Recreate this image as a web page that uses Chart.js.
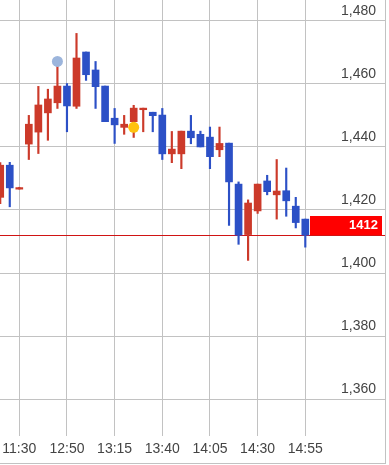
<!DOCTYPE html>
<html><head><meta charset="utf-8">
<script src="https://cdn.jsdelivr.net/npm/chart.js@4.4.0/dist/chart.umd.min.js"></script>
<style>
html,body{margin:0;padding:0;background:#fff;}
#wrap{width:385px;height:463px;border-right:1px solid #c2c2c2;border-bottom:1px solid #c2c2c2;}
canvas{display:block;}
</style></head><body>
<div id="wrap"><canvas id="c" width="385" height="463"></canvas></div>
<script>
// ---- data ----
const times  = ['11:20','11:25','11:30','12:30','12:35','12:40','12:45','12:50','12:55','13:00','13:05','13:10','13:15','13:20','13:25','13:30','13:35','13:40','13:45','13:50','13:55','14:00','14:05','14:10','14:15','14:20','14:25','14:30','14:35','14:40','14:45','14:50','14:55'];
const opens  = [1424.0,1434.2,1426.6,1440.9,1444.7,1450.8,1454.0,1459.3,1452.9,1470.1,1464.4,1459.3,1449.1,1446.2,1448.0,1451.8,1451.0,1450.1,1437.8,1437.8,1445.0,1444.0,1443.1,1439.1,1441.2,1428.2,1412.2,1419.7,1429.2,1424.8,1426.1,1421.2,1417.1];
const highs  = [1435.0,1435.1,1427.2,1450.0,1459.2,1458.3,1467.0,1460.1,1476.0,1470.1,1467.1,1459.3,1452.2,1450.0,1453.2,1452.3,1451.0,1452.2,1444.9,1445.0,1450.0,1445.0,1446.3,1446.3,1441.2,1428.9,1423.2,1428.2,1431.0,1436.0,1433.3,1424.0,1417.1];
const lows   = [1422.0,1421.0,1426.6,1436.0,1437.9,1442.1,1452.2,1444.8,1452.2,1461.1,1452.2,1448.0,1441.1,1444.0,1443.0,1444.8,1444.8,1436.0,1435.0,1433.1,1441.0,1440.0,1433.1,1436.9,1415.1,1409.1,1404.0,1418.9,1424.8,1417.1,1418.0,1414.3,1408.2];
const closes = [1434.2,1427.0,1427.1,1447.2,1453.3,1455.2,1459.3,1453.0,1468.2,1462.9,1459.1,1448.0,1447.0,1447.2,1452.3,1452.3,1449.9,1437.8,1439.3,1445.0,1442.9,1440.0,1436.9,1441.1,1428.9,1412.0,1422.2,1428.2,1425.8,1426.0,1422.9,1416.0,1412.0];
const markerTimes  = ['12:45','13:25'];
const markerValues = [1467.1, 1446.2];
const xTickTimes = ['11:30','12:50','13:15','13:40','14:05','14:30','14:55'];
const yTicks = [1360,1380,1400,1420,1440,1460,1480];

// ---- styles ----
const UP = '#cc3a2a', DOWN = '#2c50c6';
const markerColors = ['#9cb5dc', '#ffc20e'];
const FONT = '"Liberation Sans", Arial, sans-serif';

const idx = times.map((t,i)=>i);
const colors = idx.map(i => closes[i] >= opens[i] ? UP : DOWN);
const lastClose = closes[closes.length-1];

function noPad(s){ s.paddingLeft = 0; s.paddingRight = 0; s.paddingTop = 0; s.paddingBottom = 0; }

const priceMark = {
  id:'priceMark',
  beforeDatasetsDraw(chart){
    const {ctx, chartArea, scales:{y}} = chart;
    const py = Math.floor(y.getPixelForValue(lastClose));
    ctx.save();
    ctx.strokeStyle = '#d01414';
    ctx.lineWidth = 1;
    ctx.beginPath();
    ctx.moveTo(chartArea.left, py + 0.5);
    ctx.lineTo(chartArea.right, py + 0.5);
    ctx.stroke();
    ctx.restore();
  },
  afterDatasetsDraw(chart){
    const {ctx, chartArea, scales:{x, y}} = chart;
    const py = Math.floor(y.getPixelForValue(lastClose));
    const left = Math.round(x.getPixelForValue(times.length-1) + 4.5);
    const right = Math.round(chartArea.right - 3.5);
    ctx.save();
    ctx.fillStyle = '#ff0000';
    ctx.fillRect(left, py-19, right-left, 19);
    ctx.fillStyle = '#ffffff';
    ctx.font = 'bold 13px ' + FONT;
    ctx.textAlign = 'right';
    ctx.textBaseline = 'middle';
    ctx.fillText(String(lastClose), right-4, py-9.5);
    ctx.restore();
  }
};

new Chart(document.getElementById('c'), {
  type:'bar',
  data:{
    datasets:[
      { type:'scatter', order:0,
        data: markerTimes.map((t,k)=>({x: times.indexOf(t), y: markerValues[k]})),
        pointRadius:5.5, pointBackgroundColor:markerColors, pointBorderWidth:0, pointHoverRadius:5.5 },
      { type:'bar', order:1, grouped:false, barThickness:7,
        data: idx.map(i=>({x:i, y:[opens[i], closes[i]]})),
        backgroundColor: colors, borderWidth:0, minBarLength:1.5 },
      { type:'bar', order:2, grouped:false, barThickness:1.5,
        data: idx.map(i=>({x:i, y:[lows[i], highs[i]]})),
        backgroundColor: colors, borderWidth:0 }
    ]
  },
  options:{
    responsive:false, animation:false,
    layout:{padding:0, autoPadding:false},
    plugins:{legend:{display:false}, tooltip:{enabled:false}},
    scales:{
      x:{ type:'linear', min:-0.024, max:40.36, offset:false,
          grid:{color:'#c2c2c2', drawTicks:false, lineWidth:1, offset:false},
          border:{display:false},
          afterBuildTicks: s => { s.ticks = xTickTimes.map(t=>({value: times.indexOf(t)})); },
          afterFit: s => { s.height = 27; noPad(s); },
          ticks:{ autoSkip:false, maxRotation:0, padding:5, color:'#444',
                  font:{family:FONT, size:14}, callback: v => times[v] } },
      y:{ position:'right', min:1348.3, max:1486.6,
          grid:{color:'#c2c2c2', drawTicks:false, lineWidth:1},
          border:{display:false},
          afterBuildTicks: s => { s.ticks = yTicks.map(v=>({value:v})); },
          afterFit: s => { s.width = 0; noPad(s); },
          ticks:{ mirror:true, padding:-9, labelOffset:-9.5, color:'#444',
                  font:{family:FONT, size:14}, callback: v => v.toLocaleString('en-US') } }
    }
  },
  plugins:[priceMark]
});
</script>
</body></html>
